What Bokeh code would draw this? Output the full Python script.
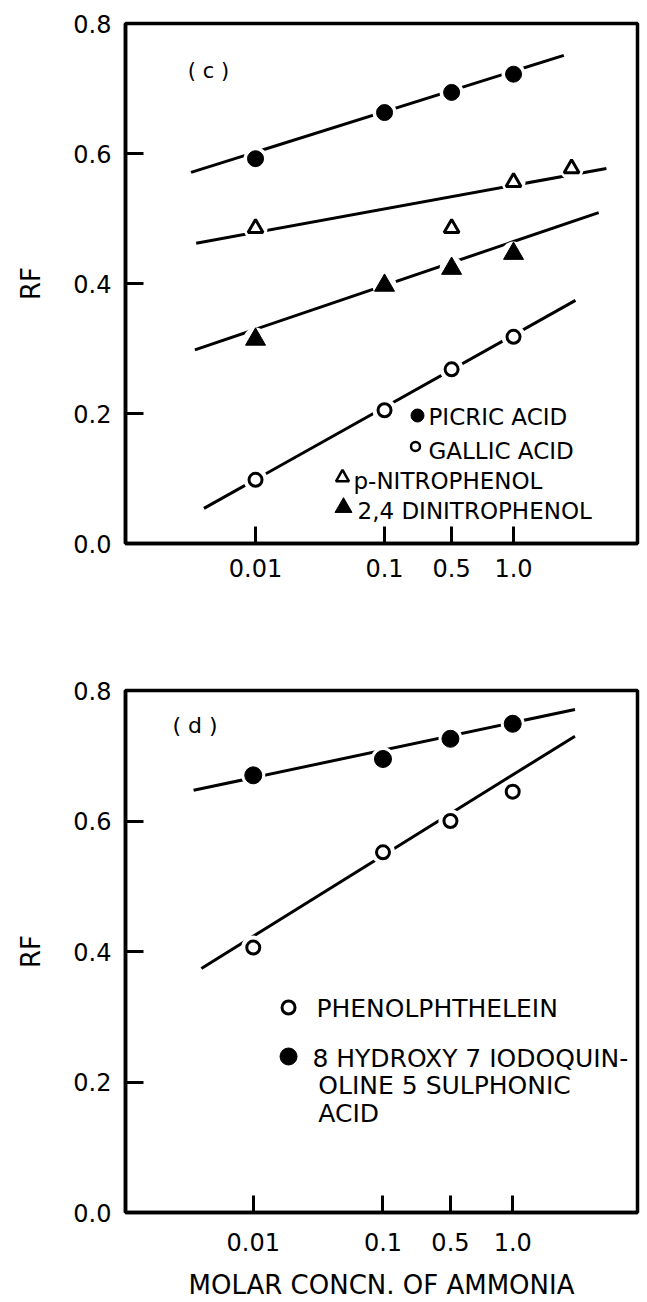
from bokeh.plotting import figure
from bokeh.layouts import column
from bokeh.models import FixedTicker, Label, PrintfTickFormatter, Range1d
from bokeh.embed import file_html
from bokeh.resources import INLINE

# ---------------- data ----------------
conc_labels = ["0.01", "0.1", "0.5", "1.0"]      # molar concentration of ammonia
conc_axis = [0.0, 1.0, 1.52, 2.0]                # where each concentration sits on the drawn axis
rf_ticks = [0.0, 0.2, 0.4, 0.6, 0.8]

# panel (c)
c_picric_x = [0.0, 1.0, 1.52, 2.0]
c_picric_rf = [0.592, 0.663, 0.694, 0.722]
c_gallic_x = [0.0, 1.0, 1.52, 2.0]
c_gallic_rf = [0.098, 0.205, 0.268, 0.318]
c_pnitro_x = [0.0, 1.52, 2.0, 2.45]
c_pnitro_rf = [0.485, 0.485, 0.556, 0.577]
c_dinitro_x = [0.0, 1.0, 1.52, 2.0]
c_dinitro_rf = [0.314, 0.397, 0.423, 0.446]

c_picric_fit_x = [-0.50, 2.39]
c_picric_fit_rf = [0.571, 0.751]
c_gallic_fit_x = [-0.40, 2.48]
c_gallic_fit_rf = [0.054, 0.374]
c_pnitro_fit_x = [-0.46, 2.72]
c_pnitro_fit_rf = [0.462, 0.577]
c_dinitro_fit_x = [-0.47, 2.66]
c_dinitro_fit_rf = [0.298, 0.509]

c_names = ["PICRIC ACID", "GALLIC ACID", "p-NITROPHENOL", "2,4 DINITROPHENOL"]

# panel (d)
d_phenol_x = [0.0, 1.0, 1.52, 2.0]
d_phenol_rf = [0.406, 0.552, 0.600, 0.645]
d_hydroxy_x = [0.0, 1.0, 1.52, 2.0]
d_hydroxy_rf = [0.670, 0.695, 0.726, 0.749]

d_phenol_fit_x = [-0.40, 2.48]
d_phenol_fit_rf = [0.374, 0.730]
d_hydroxy_fit_x = [-0.46, 2.48]
d_hydroxy_fit_rf = [0.647, 0.771]

d_names = ["PHENOLPHTHELEIN", "8 HYDROXY 7 IODOQUIN-\nOLINE 5 SULPHONIC\nACID"]

x_title = "MOLAR CONCN. OF AMMONIA"
y_title = "RF"

# ---------------- layout / style ----------------
FONT = "DejaVu Sans"
W = 647
G_C = dict(h=612, top_page=0, left=125, right=637, ftop=23, fbottom=543,
           xr=(-1.008, 2.961), tick_standoff=15)
G_D = dict(h=690, top_page=612, left=122, right=637, ftop=690, fbottom=1212,
           xr=(-0.985, 2.962), tick_standoff=20)


def pg(g, px, py):
    """page pixel -> data coordinates of a panel (for annotations only)"""
    x0, x1 = g["xr"]
    x = x0 + (px - g["left"]) / (g["right"] - g["left"]) * (x1 - x0)
    y = (g["fbottom"] - py) / (g["fbottom"] - g["ftop"]) * 0.8
    return x, y


def make_fig(g):
    p = figure(width=W, height=g["h"], x_range=Range1d(*g["xr"]), y_range=Range1d(0, 0.8),
               output_backend="svg", toolbar_location=None,
               min_border_left=g["left"], min_border_right=W - g["right"],
               min_border_top=g["ftop"] - g["top_page"],
               min_border_bottom=g["h"] - (g["fbottom"] - g["top_page"]))
    p.grid.visible = False
    p.outline_line_color = "black"
    p.outline_line_width = 3.5
    p.outline_line_alpha = 1.0
    p.background_fill_color = "white"
    p.border_fill_color = "white"

    xa = p.xaxis[0]
    xa.ticker = FixedTicker(ticks=conc_axis)
    xa.major_label_overrides = {t: l for t, l in zip(conc_axis, conc_labels)}
    xa.major_tick_in = 17
    xa.major_tick_out = 0
    xa.major_tick_line_width = 3
    xa.minor_tick_line_color = None
    xa.axis_line_width = 3.5
    xa.major_label_standoff = g["tick_standoff"]
    xa.major_label_text_font = FONT
    xa.major_label_text_font_size = "24px"
    xa.major_label_text_color = "black"

    ya = p.yaxis[0]
    ya.ticker = FixedTicker(ticks=rf_ticks)
    ya.formatter = PrintfTickFormatter(format="%.1f")
    ya.major_tick_in = 18
    ya.major_tick_out = 0
    ya.major_tick_line_width = 3
    ya.minor_tick_line_color = None
    ya.axis_line_width = 3.5
    ya.major_label_standoff = 14
    ya.major_label_text_font = FONT
    ya.major_label_text_font_size = "24px"
    ya.major_label_text_color = "black"
    ya.axis_label = y_title
    ya.axis_label_text_font = FONT
    ya.axis_label_text_font_size = "26px"
    ya.axis_label_text_font_style = "normal"
    ya.axis_label_text_color = "black"
    ya.axis_label_standoff = 24
    return p


def fit_line(p, x, y):
    p.line(x, y, line_color="black", line_width=3)


def halo(p, xs, ys):
    p.scatter(xs, ys, marker="circle", size=24, fill_color="white", line_color=None)


def marks(p, x, y, marker, filled, size, lw=3):
    p.scatter(x, y, marker=marker, size=size, fill_color="black" if filled else "white",
              line_color="black", line_width=lw)


def text(p, g, px, py, s, size, align="left"):
    x, y = pg(g, px, py)
    p.add_layout(Label(x=x, y=y, text=s, text_font=FONT, text_font_size=size,
                       text_baseline="middle", text_align=align, text_color="black"))


# ---------------- panel (c) ----------------
pc = make_fig(G_C)
fit_line(pc, c_picric_fit_x, c_picric_fit_rf)
fit_line(pc, c_gallic_fit_x, c_gallic_fit_rf)
fit_line(pc, c_pnitro_fit_x, c_pnitro_fit_rf)
fit_line(pc, c_dinitro_fit_x, c_dinitro_fit_rf)
halo(pc, c_picric_x + c_gallic_x + c_pnitro_x + c_dinitro_x,
     c_picric_rf + c_gallic_rf + c_pnitro_rf + c_dinitro_rf)
marks(pc, c_picric_x, c_picric_rf, "circle", True, 16, 1)
marks(pc, c_gallic_x, c_gallic_rf, "circle", False, 13, 3)
marks(pc, c_pnitro_x, c_pnitro_rf, "triangle", False, 15, 3)
marks(pc, c_dinitro_x, c_dinitro_rf, "triangle", True, 20, 1)

text(pc, G_C, 208, 70, "( c )", "21px", "center")
c_leg = [("circle", True, 13, 1, (417, 415), (428, 416)),
         ("circle", False, 9, 2.5, (415, 446), (428, 450)),
         ("triangle", False, 13, 2.5, (342, 477), (353, 480)),
         ("triangle", True, 17, 1, (343, 507), (357, 510))]
for name, (mk, filled, sz, lw, mpos, tpos) in zip(c_names, c_leg):
    mx, my = pg(G_C, *mpos)
    marks(pc, [mx], [my], mk, filled, sz, lw)
    text(pc, G_C, tpos[0], tpos[1], name, "23px")

# ---------------- panel (d) ----------------
pd_ = make_fig(G_D)
fit_line(pd_, d_hydroxy_fit_x, d_hydroxy_fit_rf)
fit_line(pd_, d_phenol_fit_x, d_phenol_fit_rf)
halo(pd_, d_hydroxy_x + d_phenol_x, d_hydroxy_rf + d_phenol_rf)
marks(pd_, d_hydroxy_x, d_hydroxy_rf, "circle", True, 17, 1)
marks(pd_, d_phenol_x, d_phenol_rf, "circle", False, 13, 3)

text(pd_, G_D, 192, 725, "( d )", "22px", "center")
d_leg = [("circle", False, 13, 3, (286, 1007), [(314, 1008)]),
         ("circle", True, 17, 1, (286, 1056), [(310, 1058), (316, 1085), (316, 1113)])]
for name, (mk, filled, sz, lw, mpos, tposs) in zip(d_names, d_leg):
    mx, my = pg(G_D, *mpos)
    marks(pd_, [mx], [my], mk, filled, sz, lw)
    for line_txt, (tx, ty) in zip(name.split("\n"), tposs):
        text(pd_, G_D, tx, ty, line_txt, "25px")

xd = pd_.xaxis[0]
xd.axis_label = x_title
xd.axis_label_text_font = FONT
xd.axis_label_text_font_size = "26px"
xd.axis_label_text_font_style = "normal"
xd.axis_label_text_color = "black"
xd.axis_label_standoff = 16

layout = column(pc, pd_)
open("out.html", "w").write(file_html(layout, INLINE))
